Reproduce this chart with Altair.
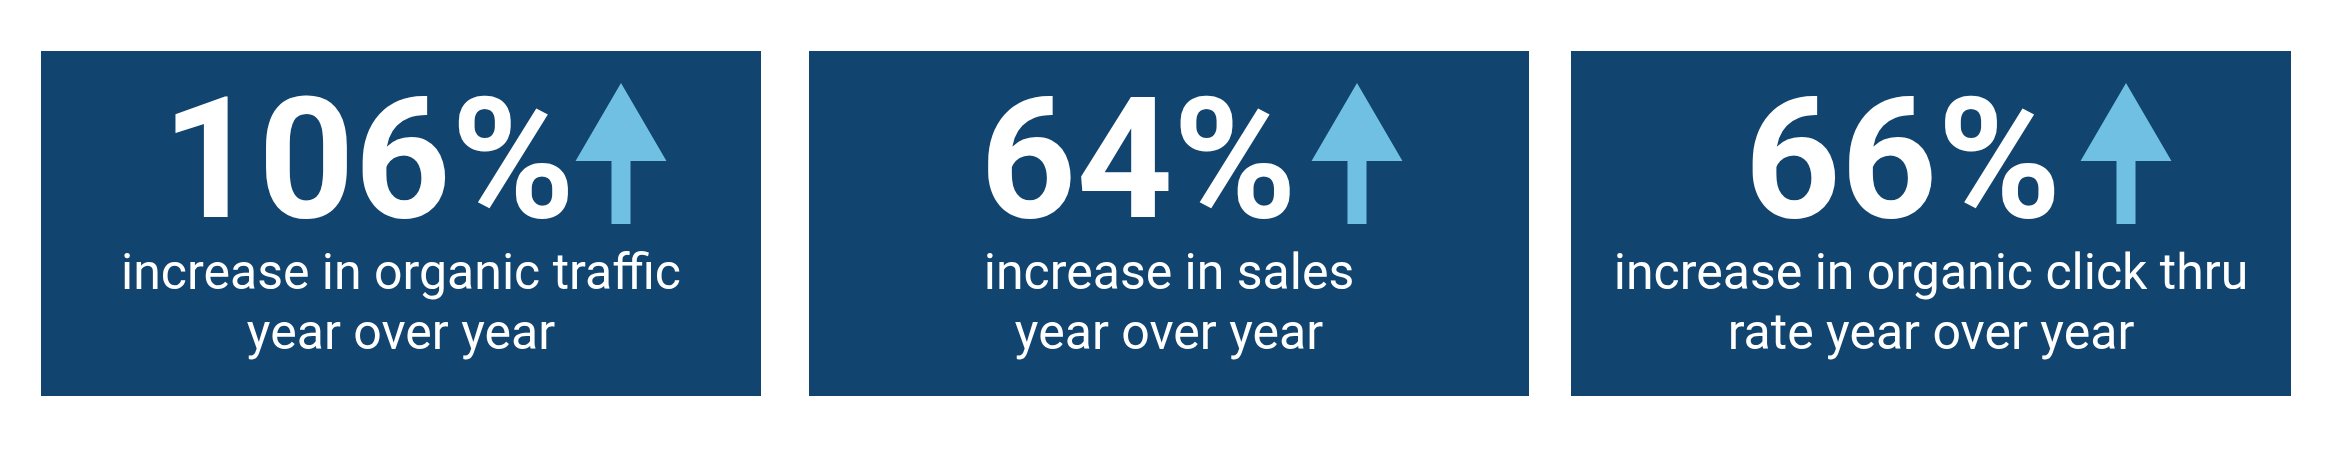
import altair as alt
import pandas as pd

# --- values shown on the three cards
values = ["106%", "64%", "66%"]
line1 = ["increase in organic traffic", "increase in sales", "increase in organic click thru"]
line2 = ["year over year", "year over year", "rate year over year"]

# --- layout (page pixels)
W, H = 2310, 430
box_left = [41, 809, 1571]
box_right = [761, 1529, 2291]
box_top, box_bottom = 51, 396
num_shift = [-32.5, -30.5, -28]      # number centre relative to card centre
arrow_shift = [220, 188, 195]        # arrow tip relative to card centre

BLUE = "#11446f"
LIGHT = "#6fc0e2"

df = pd.DataFrame({"value": values, "line1": line1, "line2": line2,
                   "left": box_left, "right": box_right})
df["top"] = box_top
df["bottom"] = box_bottom
df["centre"] = (df["left"] + df["right"]) / 2
df["num_x"] = df["centre"] + num_shift
df["arrow_x"] = df["centre"] + arrow_shift
df["num_y"] = 217
df["l1_y"] = 289
df["l2_y"] = 349
df["arrow_y"] = 153.5

xs = alt.Scale(domain=[8, 8 + W], nice=False, zero=False)
ys = alt.Scale(domain=[8, 8 + H], nice=False, zero=False, reverse=True)

base = alt.Chart(df)

boxes = base.mark_rect(color=BLUE).encode(
    x=alt.X("left:Q", scale=xs, axis=None),
    x2="right:Q",
    y=alt.Y("top:Q", scale=ys, axis=None),
    y2="bottom:Q",
)

numbers = base.mark_text(
    font="Roboto", fontWeight="bold", fontSize=168, color="white",
    align="center", baseline="alphabetic"
).encode(
    x=alt.X("num_x:Q", scale=xs, axis=None),
    y=alt.Y("num_y:Q", scale=ys, axis=None),
    text="value:N",
)

# arrow: head 91px wide, 78px tall, shaft 19px wide, total 141px tall
arrow_path = ("M0,-1 L0.645,0.106 L0.135,0.106 L0.135,1 "
              "L-0.135,1 L-0.135,0.106 L-0.645,0.106 Z")
arrows = base.mark_point(
    shape=arrow_path, filled=True, size=141 ** 2, color=LIGHT,
    opacity=1, strokeWidth=0
).encode(
    x=alt.X("arrow_x:Q", scale=xs, axis=None),
    y=alt.Y("arrow_y:Q", scale=ys, axis=None),
)

sub_style = dict(font="Roboto", fontSize=50, color="white",
                 align="center", baseline="alphabetic")
sub1 = base.mark_text(**sub_style).encode(
    x=alt.X("centre:Q", scale=xs, axis=None),
    y=alt.Y("l1_y:Q", scale=ys, axis=None),
    text="line1:N",
)
sub2 = base.mark_text(**sub_style).encode(
    x=alt.X("centre:Q", scale=xs, axis=None),
    y=alt.Y("l2_y:Q", scale=ys, axis=None),
    text="line2:N",
)

chart = alt.layer(boxes, numbers, arrows, sub1, sub2).properties(
    width=W, height=H, padding=0, background="white"
).configure_view(stroke=None)

chart.save("out.html", embed_options={"renderer": "svg", "actions": False})
